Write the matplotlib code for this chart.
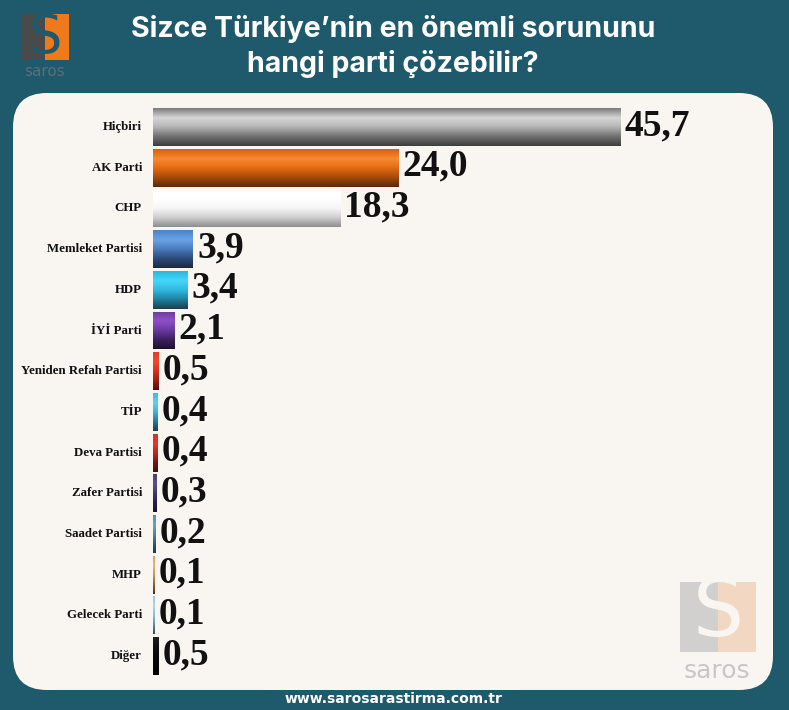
import numpy as np
import matplotlib
matplotlib.use('Agg')
import matplotlib.pyplot as plt
from matplotlib.patches import FancyBboxPatch, Rectangle
from matplotlib.colors import LinearSegmentedColormap

# data
parties = ['Hiçbiri', 'AK Parti', 'CHP', 'Memleket Partisi', 'HDP', 'İYİ Parti',
           'Yeniden Refah Partisi', 'TİP', 'Deva Partisi', 'Zafer Partisi',
           'Saadet Partisi', 'MHP', 'Gelecek Parti', 'Diğer']
values = [45.7, 24.0, 18.3, 3.9, 3.4, 2.1, 0.5, 0.4, 0.4, 0.3, 0.2, 0.1, 0.1, 0.5]
labels = ['45,7', '24,0', '18,3', '3,9', '3,4', '2,1', '0,5', '0,4', '0,4', '0,3',
          '0,2', '0,1', '0,1', '0,5']

# gradient colours, top to bottom
shades = [
    ['#7c7c7c', '#d6d6d6', '#b4b4b4', '#707070', '#3e3e3e'],
    ['#d86010', '#f88a30', '#e46a12', '#a84808', '#5a2a08'],
    ['#ffffff', '#ffffff', '#f6f6f6', '#cfcfcf', '#8e8e8e'],
    ['#4a84c8', '#6aa4e6', '#4a7cbc', '#2c4c7c', '#1a2a44'],
    ['#28b8e0', '#44d8f8', '#30b8e0', '#1f7f9f', '#1e3e4e'],
    ['#6a3c9c', '#9050c8', '#6a3aa0', '#3e2060', '#1e1030'],
    ['#e83a22', '#f04a2a', '#d83020', '#a02010', '#501008'],
    ['#40b8e0', '#60d0f0', '#40b0d8', '#2a7898', '#1a4050'],
    ['#d03030', '#e03c2c', '#b82820', '#701818', '#401010'],
    ['#4a4070', '#5a5090', '#403868', '#28204a', '#181030'],
    ['#4a90a8', '#60a8c0', '#4a8aa0', '#2c6070', '#1c3a44'],
    ['#e0a060', '#f0b070', '#d09050', '#906030', '#503018'],
    ['#90c8e8', '#a8d8f0', '#88c0e0', '#5a90b0', '#304a5a'],
    ['#202020', '#101010', '#0a0a0a', '#050505', '#000000'],
]

W, H = 789, 710
bg = '#1f5a6c'
fig = plt.figure(figsize=(W / 100, H / 100), dpi=100)
fig.patch.set_facecolor(bg)

# background layer in pixel coordinates
bgax = fig.add_axes([0, 0, 1, 1])
bgax.set_xlim(0, W)
bgax.set_ylim(H, 0)
bgax.axis('off')

panel = FancyBboxPatch((13 + 34, 93 + 34), 760 - 68, 597 - 68,
                       boxstyle='round,pad=34', facecolor='#f9f5f1',
                       edgecolor='none')
bgax.add_patch(panel)

bgax.text(393, 29, 'Sizce Türkiye\u2019nin en önemli sorununu', color='white',
          fontsize=20.5, fontweight='bold', family='Inter', ha='center', va='center')
bgax.text(393, 64, 'hangi parti çözebilir?', color='white',
          fontsize=20.5, fontweight='bold', family='Inter', ha='center', va='center')
bgax.text(393, 699, 'www.sarosarastirma.com.tr', color='white', fontsize=10,
          fontweight='bold', family='DejaVu Sans', ha='center', va='center')

# top-left logo
bgax.add_patch(Rectangle((21, 14), 24, 46, facecolor='#4a4a4a', edgecolor='none'))
bgax.add_patch(Rectangle((45, 14), 24, 46, facecolor='#f07a1a', edgecolor='none'))
bgax.text(45, 38, 'S', color=bg, fontsize=38, family='DejaVu Sans',
          ha='center', va='center')
bgax.text(45, 72, 'saros', color='#5a6e78', fontsize=11, family='DejaVu Sans',
          ha='center', va='center')

# bottom-right watermark
bgax.add_patch(Rectangle((680, 582), 38, 70, facecolor='#d2d0cf', edgecolor='none'))
bgax.add_patch(Rectangle((718, 582), 38, 70, facecolor='#f2d8c2', edgecolor='none'))
bgax.text(718, 614, 'S', color='#f9f5f1', fontsize=58, family='DejaVu Sans',
          ha='center', va='center')
bgax.text(717, 671, 'saros', color='#c8c6c6', fontsize=18, family='DejaVu Sans',
          ha='center', va='center')

# chart
x0, px_per_unit = 153, 10.22
row_h = 40.7
top = 127 - row_h / 2
n = len(parties)
ax = fig.add_axes([x0 / W, 1 - (top + n * row_h) / H, 50 * px_per_unit / W, n * row_h / H])
ax.set_xlim(0, 50)
ax.set_ylim(n - 0.5, -0.5)
ax.axis('off')

ypos = np.arange(n)
bars = ax.barh(ypos, values, height=0.93, color=[s[2] for s in shades], edgecolor='none')
for bar, cols in zip(bars, shades):
    cmap = LinearSegmentedColormap.from_list('g', cols)
    x, y = bar.get_x(), bar.get_y()
    w, h = bar.get_width(), bar.get_height()
    im = ax.imshow(np.linspace(0, 1, 64).reshape(-1, 1), cmap=cmap, aspect='auto',
                   extent=(x, x + w, y + h, y), interpolation='bicubic', zorder=2)
    im.set_clip_path(bar)

for i, (v, lab) in enumerate(zip(values, labels)):
    ax.annotate(lab, (v, i), xytext=(3, 1), textcoords='offset points',
                ha='left', va='center', fontsize=27, fontweight='bold',
                family='Liberation Serif', color='#111111')
    ax.annotate(parties[i], (0, i), xytext=(-8, 0), textcoords='offset points',
                ha='right', va='center', fontsize=9.3, fontweight='bold',
                family='Liberation Serif', color='#111111', annotation_clip=False)

ax.set_xlim(0, 50)
ax.set_ylim(n - 0.5, -0.5)

fig.savefig('out.png', dpi=100, facecolor=bg)
